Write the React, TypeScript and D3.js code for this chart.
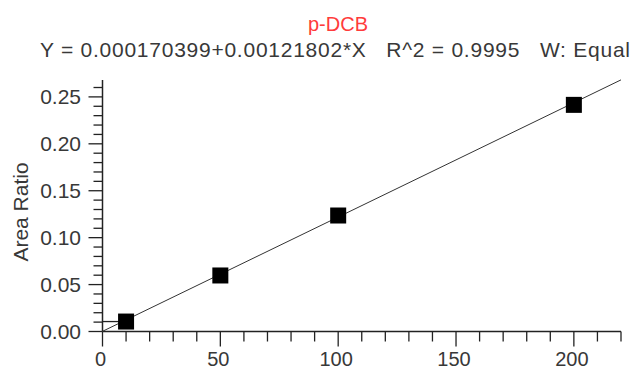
import React from "react";
import * as d3 from "d3";

const title = "p-DCB";
const equation = "Y = 0.000170399+0.00121802*X   R^2 = 0.9995   W: Equal";
const intercept = 0.000170399;
const slope = 0.00121802;
const xValues = [10, 50, 100, 200];
const yValues = [0.0106, 0.0597, 0.1236, 0.2415];
const xTickLabels = [0, 50, 100, 150, 200];
const yTickLabels = [0, 0.05, 0.1, 0.15, 0.2, 0.25];
const yLabel = "Area Ratio";

const W = 631;
const H = 371;
const FONT = "'Liberation Sans', Arial, sans-serif";

export default function App() {
  const x = d3.scaleLinear().domain([0, 220]).range([102.5, 621]);
  const y = d3.scaleLinear().domain([0, 0.268]).range([331.5, 80]);
  const xMinor = d3.range(0, 221, 10);
  const yMinor = d3.range(0, 27, 1).map((v) => v / 100);
  const line = d3
    .line<number>()
    .x((d) => x(d))
    .y((d) => y(intercept + slope * d));
  const ms = 16;
  const txt = "#383838";
  return (
    <svg
      width={W}
      height={H}
      style={{ position: "absolute", left: 0, top: 0, background: "#fff" }}
    >
      <rect x={0} y={0} width={W} height={H} fill="#fff" />
      <text x={338} y={31} textAnchor="middle" fill="#ff3b3b" fontFamily={FONT} fontSize={20}>
        {title}
      </text>
      <text
        x={335}
        y={57}
        textAnchor="middle"
        fill={txt}
        fontFamily={FONT}
        fontSize={21}
        textLength={590}
        lengthAdjust="spacing"
        style={{ whiteSpace: "pre" }}
      >
        {equation}
      </text>
      {/* axes */}
      <line x1={x(0)} x2={x(220)} y1={y(0)} y2={y(0)} stroke="#222" strokeWidth={1.5} />
      <line x1={x(0)} x2={x(0)} y1={y(0)} y2={y(0.268)} stroke="#222" strokeWidth={1.5} />
      {xMinor.map((v) => {
        const major = v % 50 === 0;
        return (
          <line
            key={"xt" + v}
            x1={x(v)}
            x2={x(v)}
            y1={y(0)}
            y2={y(0) + (major ? 15 : 10)}
            stroke="#222"
            strokeWidth={1.3}
          />
        );
      })}
      {yMinor.map((v, i) => {
        const major = i % 5 === 0;
        return (
          <line
            key={"yt" + i}
            x1={x(0)}
            x2={x(0) - (major ? 14 : 9)}
            y1={y(v)}
            y2={y(v)}
            stroke="#222"
            strokeWidth={1.3}
          />
        );
      })}
      {xTickLabels.map((v) => (
        <text key={"xl" + v} x={x(v) - 2} y={366} textAnchor="middle" fill={txt} fontFamily={FONT} fontSize={20}>
          {v}
        </text>
      ))}
      {yTickLabels.map((v) => (
        <text
          key={"yl" + v}
          x={81}
          y={y(v) + 7.5}
          textAnchor="end"
          fill={txt}
          fontFamily={FONT}
          fontSize={21}
        >
          {v.toFixed(2)}
        </text>
      ))}
      <text
        transform={`translate(28,212) rotate(-90)`}
        textAnchor="middle"
        fill={txt}
        fontFamily={FONT}
        fontSize={21}
      >
        {yLabel}
      </text>
      {/* regression line */}
      <path d={line([0, 220]) || ""} fill="none" stroke="#333" strokeWidth={1} />
      <line x1={x(0)} x2={x(xValues[0])} y1={y(yValues[0])} y2={y(yValues[0])} stroke="#222" strokeWidth={1.3} />
      {xValues.map((v, i) => (
        <rect
          key={"m" + i}
          x={x(v) - ms / 2}
          y={y(yValues[i]) - ms / 2}
          width={ms}
          height={ms}
          fill="#000"
        />
      ))}
    </svg>
  );
}
